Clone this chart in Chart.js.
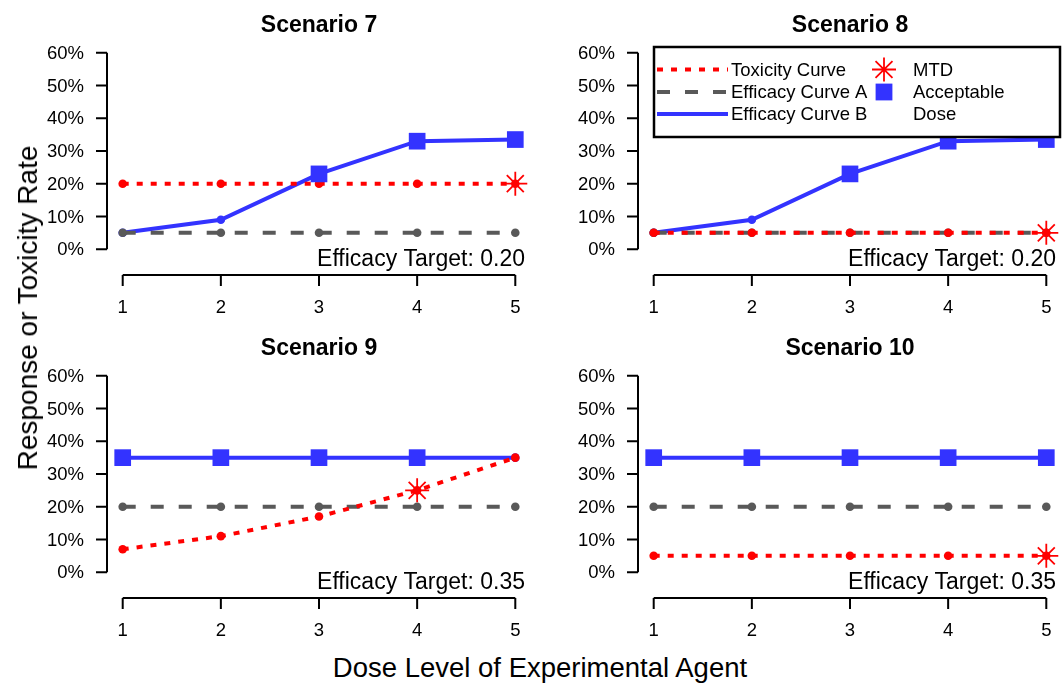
<!DOCTYPE html>
<html>
<head>
<meta charset="utf-8">
<script src="https://cdn.jsdelivr.net/npm/chart.js@4.4.0/dist/chart.umd.min.js"></script>
<style>
  body { margin: 0; background: #fff; width: 1062px; height: 685px; overflow: hidden; position: relative;
         font-family: "Liberation Sans", Arial, sans-serif; }
  .panel { position: absolute; width: 531px; height: 323px; }
  .ylab { position: absolute; left: 27.5px; top: 307.5px; transform: translate(-50%, -50%) rotate(-90deg);
          font-size: 28px; white-space: nowrap; color: #000; }
  .xlab { position: absolute; left: 540px; top: 668px; transform: translate(-50%, -50%);
          font-size: 27.5px; white-space: nowrap; color: #000; }
</style>
</head>
<body>
<div class="panel" style="left:0;top:0"><canvas id="c0" width="531" height="323"></canvas></div>
<div class="panel" style="left:531px;top:0"><canvas id="c1" width="531" height="323"></canvas></div>
<div class="panel" style="left:0;top:323px"><canvas id="c2" width="531" height="323"></canvas></div>
<div class="panel" style="left:531px;top:323px"><canvas id="c3" width="531" height="323"></canvas></div>
<div class="ylab">Response or Toxicity Rate</div>
<div class="xlab">Dose Level of Experimental Agent</div>
<script>
// data
const scenarioTitles = ["Scenario 7", "Scenario 8", "Scenario 9", "Scenario 10"];
const doseLevels = [1, 2, 3, 4, 5];
const toxicityCurve = [
  [0.20, 0.20, 0.20, 0.20, 0.20],
  [0.05, 0.05, 0.05, 0.05, 0.05],
  [0.07, 0.11, 0.17, 0.25, 0.35],
  [0.05, 0.05, 0.05, 0.05, 0.05]
];
const efficacyCurveA = [
  [0.05, 0.05, 0.05, 0.05, 0.05],
  [0.05, 0.05, 0.05, 0.05, 0.05],
  [0.20, 0.20, 0.20, 0.20, 0.20],
  [0.20, 0.20, 0.20, 0.20, 0.20]
];
const efficacyCurveB = [
  [0.05, 0.09, 0.23, 0.33, 0.335],
  [0.05, 0.09, 0.23, 0.33, 0.335],
  [0.35, 0.35, 0.35, 0.35, 0.35],
  [0.35, 0.35, 0.35, 0.35, 0.35]
];
const mtdDose = [5, 5, 4, 5];
const acceptableDoses = [[3, 4, 5], [3, 4, 5], [1, 2, 3, 4], [1, 2, 3, 4, 5]];
const efficacyTarget = ["0.20", "0.20", "0.35", "0.35"];
const yTicks = [0, 0.1, 0.2, 0.3, 0.4, 0.5, 0.6];
const yTickLabels = ["0%", "10%", "20%", "30%", "40%", "50%", "60%"];

const RED = "#FF0000";
const GRAY = "#595959";
const BLUE = "#3333FF";
const FONT = '"Liberation Sans", Arial, sans-serif';

// R-style axes, titles, target text and legend drawn from the chart's own scales
const rDecor = {
  id: "rDecor",
  beforeDatasetsDraw(chart, args, opts) {
    const ctx = chart.ctx;
    const x = chart.scales.x, y = chart.scales.y;
    const area = chart.chartArea;
    ctx.save();
    ctx.strokeStyle = "#000";
    ctx.lineWidth = 2;
    // y axis
    ctx.beginPath();
    ctx.moveTo(area.left, y.getPixelForValue(yTicks[0]));
    ctx.lineTo(area.left, y.getPixelForValue(yTicks[yTicks.length - 1]));
    yTicks.forEach(v => {
      const py = y.getPixelForValue(v);
      ctx.moveTo(area.left - 11, py);
      ctx.lineTo(area.left, py);
    });
    // x axis (offset below the plot like R)
    const ay = area.bottom + 18;
    ctx.moveTo(x.getPixelForValue(doseLevels[0]), ay);
    ctx.lineTo(x.getPixelForValue(doseLevels[doseLevels.length - 1]), ay);
    doseLevels.forEach(d => {
      const px = x.getPixelForValue(d);
      ctx.moveTo(px, ay);
      ctx.lineTo(px, ay + 11);
    });
    ctx.stroke();

    ctx.fillStyle = "#000";
    ctx.font = "18.5px " + FONT;
    ctx.textAlign = "right";
    ctx.textBaseline = "middle";
    yTicks.forEach((v, k) => ctx.fillText(yTickLabels[k], area.left - 23, y.getPixelForValue(v) + 1));
    ctx.textAlign = "center";
    doseLevels.forEach(d => ctx.fillText(String(d), x.getPixelForValue(d), ay + 33));

    // title
    ctx.font = "bold 23px " + FONT;
    ctx.textBaseline = "alphabetic";
    ctx.fillText(opts.title, (area.left + area.right) / 2, 31.5);

    // efficacy target
    ctx.font = "23px " + FONT;
    ctx.textAlign = "right";
    ctx.fillText("Efficacy Target: " + opts.target, area.right - 6, area.bottom + 9);
    ctx.restore();
  },
  afterDatasetsDraw(chart, args, opts) {
    if (!opts.legend) return;
    const ctx = chart.ctx;
    ctx.save();
    const bx = 123, by = 47, bw = 406, bh = 90;
    ctx.fillStyle = "#fff";
    ctx.fillRect(bx, by, bw, bh);
    ctx.strokeStyle = "#000";
    ctx.lineWidth = 2.5;
    ctx.strokeRect(bx, by, bw, bh);

    const rows = [69.5, 92, 114];
    const samples = [
      { color: RED, dash: [6, 8], text: "Toxicity Curve" },
      { color: GRAY, dash: [13, 15], text: "Efficacy Curve A" },
      { color: BLUE, dash: [], text: "Efficacy Curve B" }
    ];
    ctx.lineWidth = 4;
    samples.forEach((s, k) => {
      ctx.strokeStyle = s.color;
      ctx.setLineDash(s.dash);
      ctx.beginPath();
      ctx.moveTo(126, rows[k]);
      ctx.lineTo(197, rows[k]);
      ctx.stroke();
    });
    ctx.setLineDash([]);
    ctx.fillStyle = "#000";
    ctx.font = "18.5px " + FONT;
    ctx.textAlign = "left";
    ctx.textBaseline = "middle";
    samples.forEach((s, k) => ctx.fillText(s.text, 200, rows[k] + 1));
    ctx.fillText("MTD", 382, rows[0] + 1);
    ctx.fillText("Acceptable", 382, rows[1] + 1);
    ctx.fillText("Dose", 382, rows[2] + 1);

    // symbols: asterisk for MTD, filled square for acceptable dose
    ctx.strokeStyle = RED;
    ctx.lineWidth = 1.8;
    ctx.beginPath();
    const r = 12, d = r * Math.SQRT1_2;
    ctx.moveTo(353 - r, rows[0]); ctx.lineTo(353 + r, rows[0]);
    ctx.moveTo(353, rows[0] - r); ctx.lineTo(353, rows[0] + r);
    ctx.moveTo(353 - d, rows[0] - d); ctx.lineTo(353 + d, rows[0] + d);
    ctx.moveTo(353 - d, rows[0] + d); ctx.lineTo(353 + d, rows[0] - d);
    ctx.stroke();
    ctx.fillStyle = BLUE;
    ctx.fillRect(353 - 8.4, rows[1] - 8.4, 16.8, 16.8);
    ctx.restore();
  }
};

function makePanel(i) {
  const pts = arr => doseLevels.map((d, k) => ({ x: d, y: arr[k] }));
  new Chart(document.getElementById("c" + i), {
    type: "line",
    data: {
      datasets: [
        {
          label: "MTD",
          data: [{ x: mtdDose[i], y: toxicityCurve[i][mtdDose[i] - 1] }],
          showLine: false, pointStyle: "star", pointRadius: 12,
          pointBorderColor: RED, pointBorderWidth: 1.8, borderColor: RED, clip: false
        },
        {
          label: "Acceptable Dose",
          data: acceptableDoses[i].map(d => ({ x: d, y: efficacyCurveB[i][d - 1] })),
          showLine: false, pointStyle: "rect", pointRadius: 11.8,
          pointBackgroundColor: BLUE, pointBorderColor: BLUE, pointBorderWidth: 0, clip: false
        },
        {
          label: "Toxicity Curve", data: pts(toxicityCurve[i]),
          borderColor: RED, borderWidth: 4, borderDash: [6, 8],
          pointRadius: 4.3, pointBackgroundColor: RED, pointBorderWidth: 0, clip: false
        },
        {
          label: "Efficacy Curve A", data: pts(efficacyCurveA[i]),
          borderColor: GRAY, borderWidth: 4, borderDash: [13, 15],
          pointRadius: 4.3, pointBackgroundColor: GRAY, pointBorderWidth: 0, clip: false
        },
        {
          label: "Efficacy Curve B", data: pts(efficacyCurveB[i]),
          borderColor: BLUE, borderWidth: 4,
          pointRadius: 4.3, pointBackgroundColor: BLUE, pointBorderWidth: 0, clip: false
        }
      ]
    },
    options: {
      responsive: false,
      animation: false,
      events: [],
      layout: { autoPadding: false, padding: { left: 107, right: 0, top: 45, bottom: 66 } },
      scales: {
        x: { type: "linear", min: 0.84, max: 5.16, display: false },
        y: { min: -0.024, max: 0.624, display: false }
      },
      elements: { line: { tension: 0 } },
      plugins: {
        legend: { display: false },
        tooltip: { enabled: false },
        rDecor: { title: scenarioTitles[i], target: efficacyTarget[i], legend: i === 1 }
      }
    },
    plugins: [rDecor]
  });
}

[0, 1, 2, 3].forEach(makePanel);
</script>
</body>
</html>
